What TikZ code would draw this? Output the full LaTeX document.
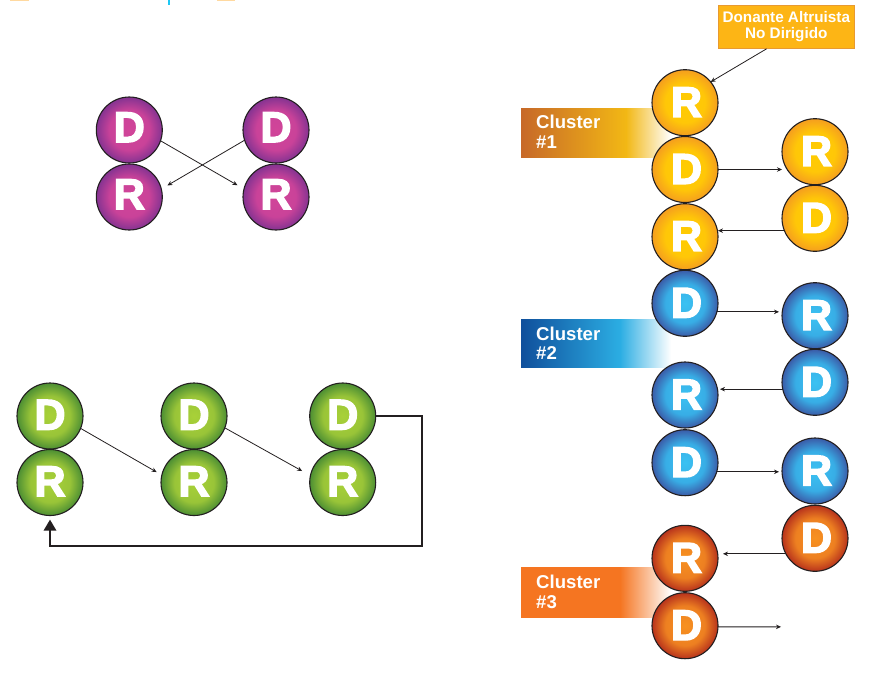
\documentclass[tikz,border=0pt]{standalone}
\usepackage{fontspec}
\setmainfont{Liberation Sans}
\newfontfamily\blkfont[FakeBold=3.4]{Liberation Sans Bold}
\usetikzlibrary{arrows.meta,calc}
\definecolor{inkc}{HTML}{231F20}
\definecolor{boxfill}{HTML}{FDB515}
\definecolor{boxedge}{HTML}{E89A30}
\definecolor{stubo}{HTML}{FFD9A0}
\definecolor{stubc}{HTML}{1EC8F5}
\pgfdeclareradialshading{ballpurple}{\pgfpoint{0bp}{0bp}}{rgb(0bp)=(0.82,0.27,0.60);rgb(15bp)=(0.79,0.26,0.60);rgb(25bp)=(0.52,0.20,0.57);rgb(50bp)=(0.52,0.20,0.57)}
\pgfdeclareradialshading{ballgreen}{\pgfpoint{0bp}{0bp}}{rgb(0bp)=(0.66,0.82,0.22);rgb(15bp)=(0.60,0.77,0.22);rgb(25bp)=(0.30,0.56,0.20);rgb(50bp)=(0.30,0.56,0.20)}
\pgfdeclareradialshading{ballyellow}{\pgfpoint{0bp}{0bp}}{rgb(0bp)=(1.0,0.80,0.0);rgb(15bp)=(1.0,0.78,0.03);rgb(25bp)=(0.96,0.62,0.12);rgb(50bp)=(0.96,0.62,0.12)}
\pgfdeclareradialshading{ballblue}{\pgfpoint{0bp}{0bp}}{rgb(0bp)=(0.23,0.76,0.95);rgb(15bp)=(0.22,0.68,0.90);rgb(25bp)=(0.23,0.36,0.66);rgb(50bp)=(0.23,0.36,0.66)}
\pgfdeclareradialshading{ballorange}{\pgfpoint{0bp}{0bp}}{rgb(0bp)=(0.97,0.57,0.13);rgb(15bp)=(0.93,0.50,0.13);rgb(25bp)=(0.72,0.20,0.11);rgb(50bp)=(0.72,0.20,0.11)}
\pgfdeclarehorizontalshading{bandone}{100bp}{rgb(0bp)=(0.78,0.41,0.16);rgb(25bp)=(0.78,0.41,0.16);rgb(60bp)=(0.95,0.72,0.08);rgb(75bp)=(1,1,1);rgb(100bp)=(1,1,1)}
\pgfdeclarehorizontalshading{bandtwo}{100bp}{rgb(0bp)=(0.06,0.31,0.61);rgb(25bp)=(0.06,0.31,0.61);rgb(58bp)=(0.17,0.68,0.89);rgb(75bp)=(1,1,1);rgb(100bp)=(1,1,1)}
\pgfdeclarehorizontalshading{bandthree}{100bp}{rgb(0bp)=(0.96,0.46,0.13);rgb(58bp)=(0.96,0.46,0.13);rgb(75bp)=(1,1,1);rgb(100bp)=(1,1,1)}
\tikzset{
  ball/.style={circle,draw=inkc,line width=1.1pt,minimum size=66pt,inner sep=0pt,outer sep=0pt,text=white,font=\blkfont\fontsize{43}{43}\selectfont},
  pball/.style={ball,text depth=5.5pt,shading=ballpurple},
  gball/.style={ball,text depth=2.5pt,shading=ballgreen},
  rball/.style={ball,text depth=1pt,execute at begin node={\hspace{3pt}}},
  yball/.style={rball,shading=ballyellow},
  bball/.style={rball,shading=ballblue},
  oball/.style={rball,shading=ballorange},
  arr/.style={draw=inkc,line width=0.8pt,-{Stealth[length=5pt,width=4.5pt]}},
  bigarr/.style={draw=inkc,line width=2.8pt,line join=miter,-{Triangle[length=11pt,width=12pt]}},
  clabel/.style={anchor=west,inner sep=0pt,align=left,text=white,font=\bfseries\fontsize{18.6}{19.7}\selectfont},
}
\begin{document}
\begin{tikzpicture}[x=1pt,y=-1pt]
\useasboundingbox (0,0) rectangle (877,673);
% clipped remains at the top edge
\fill[stubo] (10,0) rectangle (29,1.2);
\fill[stubo] (217,0) rectangle (235,1.2);
\fill[stubc] (168,0) rectangle (169.6,5);
% cluster bands
\shade[shading=bandone] (521,108) rectangle (671,157);
\shade[shading=bandtwo] (521,319) rectangle (671,367.7);
\shade[shading=bandthree] (521,567) rectangle (671,617);
\node[clabel] (c1) at (536,131.5) {Cluster\\\#1};
\node[clabel] (c2) at (536,343.4) {Cluster\\\#2};
\node[clabel] (c3) at (536,591.7) {Cluster\\\#3};
% purple pairs
\node[pball] (pd1) at (129.3,130) {D};
\node[pball] (pr1) at (129.3,197) {R};
\node[pball] (pd2) at (276,130) {D};
\node[pball] (pr2) at (276,197) {R};
\draw[arr,shorten >=7.5pt] (pd1.-19) -- (pr2.166);
\draw[arr,shorten >=7pt] (pd2.198) -- (pr1.14);
% green chain
\node[gball] (gd1) at (50,416) {D};
\node[gball] (gr1) at (50,482.5) {R};
\node[gball] (gd2) at (194,416) {D};
\node[gball] (gr2) at (194,482.5) {R};
\node[gball] (gd3) at (342.7,416) {D};
\node[gball] (gr3) at (342.7,482.5) {R};
\coordinate (gc) at (422,546);
\draw[arr,shorten >=6pt] (gd1.-22) -- (gr2.167);
\draw[arr,shorten >=9.5pt] (gd2.-21) -- (gr3.168);
\draw[bigarr,shorten >=4pt] (gd3.east) -| (gc) -| (gr1.south);
% altruistic donor
\node[draw=boxedge,line width=1pt,fill=boxfill,minimum width=136pt,minimum height=43pt,inner sep=0pt,align=center,text=white,font=\bfseries\fontsize{15.3}{16}\selectfont] (box) at (786.3,26.8) {Donante Altruista\\No Dirigido};
% right chain
\node[yball] (yr0) at (685,102.7) {R};
\node[yball] (yd1) at (685,169.5) {D};
\node[yball] (yr2) at (685,236.7) {R};
\node[yball] (yr1) at (815,151.7) {R};
\node[yball] (yd2) at (815,218.3) {D};
\node[bball] (bd1) at (685,303.3) {D};
\node[bball] (br2) at (685,395) {R};
\node[bball] (bd3) at (685,462.7) {D};
\node[bball] (br1) at (815,315.7) {R};
\node[bball] (bd2) at (815,382.3) {D};
\node[bball] (br3) at (815,471) {R};
\node[oball] (od3) at (815,538.3) {D};
\node[oball] (or4) at (685,558.3) {R};
\node[oball] (od4) at (685,625.7) {D};
\coordinate (free) at (781,626.85);
\draw[arr] ($(box.south west)!.356!(box.south east)$) -- (yr0.39);
\draw[arr] (yd1.east) -- (yd1.east -| yr1.west);
\draw[arr] (yd2.202) -- (yd2.202 -| yr2.east);
\draw[arr,shorten >=3pt] (bd1.-15) -- (bd1.-15 -| br1.west);
\draw[arr,shorten >=2pt] (bd2.192) -- (bd2.192 -| br2.east);
\draw[arr,shorten >=3pt] (bd3.-16) -- (bd3.-16 -| br3.west);
\draw[arr,shorten >=5pt] (od3.208) -- (od3.208 -| or4.east);
\draw[arr] (od4.-2) -- (free);
\end{tikzpicture}
\end{document}
